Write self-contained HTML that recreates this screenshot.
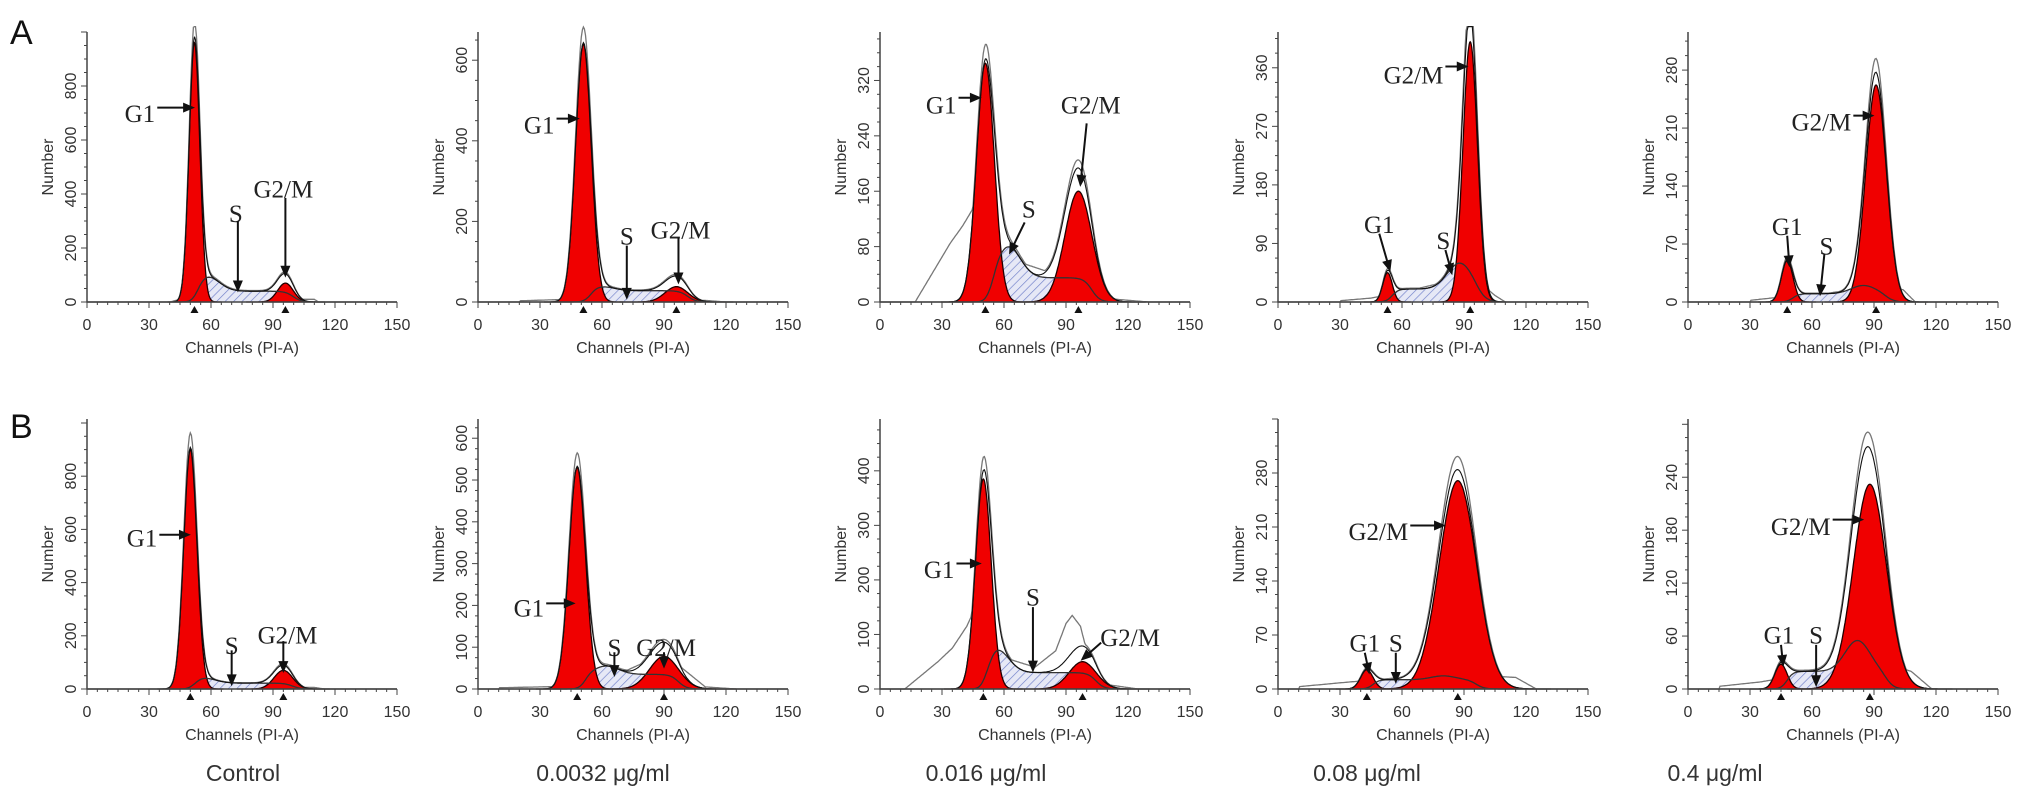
<!DOCTYPE html>
<html><head><meta charset="utf-8">
<style>
html,body{margin:0;padding:0;background:#fff;}
svg{display:block;}
.tk{font-family:"Liberation Sans",sans-serif;font-size:16px;fill:#333;}
.lb{font-family:"Liberation Serif",serif;font-size:25px;fill:#222;}
.ti{font-family:"Liberation Sans",sans-serif;font-size:23px;fill:#333;}
</style></head>
<body>
<svg id="fig" width="2031" height="808" viewBox="0 0 2031 808" xmlns="http://www.w3.org/2000/svg">
<defs>
<pattern id="hatch" width="6" height="6" patternUnits="userSpaceOnUse" patternTransform="rotate(45)">
<rect width="6" height="6" fill="#e6e8f6"/>
<line x1="0" y1="0" x2="0" y2="6" stroke="#6f7fc9" stroke-width="1.3"/>
</pattern>
</defs>
<text x="10" y="44" font-family="Liberation Sans,sans-serif" font-size="34" fill="#111">A</text>
<text x="10" y="438" font-family="Liberation Sans,sans-serif" font-size="34" fill="#111">B</text>
</svg>
<script>
// ---- data ----
const conditions = ["Control","0.0032 μg/ml","0.016 μg/ml","0.08 μg/ml","0.4 μg/ml"];
const yMax = [1000,670,390,415,326, 1015,646,495,350,306];
const yTicks = [
 [0,200,400,600,800],[0,200,400,600],[0,80,160,240,320],[0,90,180,270,360],[0,70,140,210,280],
 [0,200,400,600,800],[0,100,200,300,400,500,600],[0,100,200,300,400],[0,70,140,210,280],[0,60,120,180,240]];
const xTicks = [0,30,60,90,120,150];
// G1 peak: [mean, sd, height]
const g1Peaks = [[52,2.6,960],[51,3.8,640],[51,4.3,345],[53,2.3,45],[48,2.8,50],
                 [50,3.2,900],[48,4,530],[50,3.8,385],[43,3,25],[45,3,28]];
// G2/M peak: [mean, sd, height]
const g2Peaks = [[96,3.8,70],[96,5.5,38],[96,6.5,160],[93,3.5,400],[91,5,262],
                 [95,4.5,70],[90,7,78],[98,6.5,50],[87,9,270],[88,8,232]];
// S-phase: [level, humpChannel, humpHeight]
const sPhase = [[40,58,55],[28,60,10],[35,62,45],[20,88,40],[10,85,10],
                [22,56,20],[35,62,20],[30,56,45],[12,80,5],[20,82,35]];
// raw histogram envelope points (debris / extra): [channel, value]
const debris = [
 [[40,0],[45,10],[110,10],[112,0]],
 [[20,3],[40,6],[110,4],[120,0]],
 [[17,0],[22,25],[28,55],[34,85],[40,110],[45,135],[48,150],[56,60],[62,75],[70,55],[80,45],[88,45],[110,5],[130,0]],
 [[30,2],[45,6],[60,15],[80,30],[88,55],[105,10],[110,0]],
 [[30,2],[45,6],[60,8],[80,15],[104,15],[110,0]],
 [[35,0],[45,5],[110,6],[115,0]],
 [[10,3],[40,6],[70,40],[90,85],[110,5],[125,0]],
 [[12,0],[20,25],[28,50],[35,75],[42,115],[45,140],[58,60],[75,40],[85,70],[90,120],[93,135],[97,115],[102,40],[110,8],[125,0]],
 [[10,3],[30,8],[60,15],[80,20],[115,15],[125,0]],
 [[15,3],[35,8],[60,18],[80,40],[108,20],[118,0]]];
// labels: [text, textX(ch), textY(count), anchor, arrowFromX, arrowFromY, arrowToX, arrowToY]
const labels = [
 [["G1",33,700,"end",34,720,51,720],["S",72,330,"middle",73,300,73,45],["G2/M",95,420,"middle",96,385,96,100]],
 [["G1",37,440,"end",38,455,48,455],["S",72,165,"middle",72,140,72,12],["G2/M",98,180,"middle",97,160,97,50]],
 [["G1",37,285,"end",38,295,48,295],["S",72,135,"middle",70,115,63,72],["G2/M",102,285,"middle",100,258,97,170]],
 [["G2/M",80,350,"end",81,362,91,362],["G1",49,120,"middle",49,105,54,50],["S",80,95,"middle",81,80,84,45]],
 [["G2/M",79,218,"end",80,225,89,225],["G1",48,92,"middle",48,80,49,45],["S",67,68,"middle",66,58,64,10]],
 [["G1",34,570,"end",35,580,49,580],["S",70,165,"middle",70,145,70,20],["G2/M",97,205,"middle",95,180,95,70]],
 [["G1",32,195,"end",33,205,46,205],["S",66,100,"middle",66,88,66,35],["G2/M",91,100,"middle",90,88,90,55]],
 [["G1",36,220,"end",37,230,48,230],["S",74,170,"middle",74,150,74,35],["G2/M",121,95,"middle",107,85,98,55]],
 [["G2/M",63,205,"end",64,212,80,212],["G1",42,60,"middle",42,47,44,22],["S",57,60,"middle",57,47,57,10]],
 [["G2/M",69,185,"end",70,192,84,192],["G1",44,62,"middle",45,50,46,28],["S",62,62,"middle",62,50,62,5]]];
// ---- layout ----
const X0 = [87,478,880,1278,1688];
const W = 310, H = 270, BASES = [302,689];
const NS = "http://www.w3.org/2000/svg";
const svg = document.getElementById("fig");
function mk(tag, attrs, parent){const e=document.createElementNS(NS,tag);for(const k in attrs)e.setAttribute(k,attrs[k]);(parent||svg).appendChild(e);return e;}
function gauss(x,p){return p[2]*Math.exp(-0.5*((x-p[0])/p[1])**2);}
function interp(pts,x){if(x<=pts[0][0]||x>=pts[pts.length-1][0])return 0;for(let i=1;i<pts.length;i++){if(x<=pts[i][0]){const a=pts[i-1],b=pts[i];return a[1]+(b[1]-a[1])*(x-a[0])/(b[0]-a[0]);}}return 0;}
function sig(z){return 1/(1+Math.exp(-z));}
function sComp(i,x){const g1=g1Peaks[i],g2=g2Peaks[i],s=sPhase[i];
 return s[0]*sig((x-g1[0]-g1[1])/1.5)*sig((g2[0]+g2[1]-x)/2)+s[2]*Math.exp(-0.5*((x-s[1])/6)**2)*sig((x-g1[0])/1.5);}

for(let i=0;i<10;i++){
 const row=Math.floor(i/5), col=i%5, x0=X0[col], base=BASES[row], ym=yMax[i];
 const sx=c=>x0+c/150*W, sy=v=>base-Math.min(v,ym*1.02)/ym*H;
 const g=mk("g",{});
 
 
 const xs=[];for(let c=0;c<=150;c+=0.5)xs.push(c);
 let d="M"+sx(0)+","+sy(0);xs.forEach(c=>{d+=" L"+sx(c).toFixed(1)+","+sy(sComp(i,c)).toFixed(1);});d+=" L"+sx(150)+","+sy(0)+"Z";
 const sp=mk("path",{d:d,fill:"url(#hatch)",stroke:"none"},g);
 
 
 [g1Peaks[i],g2Peaks[i]].forEach((p,k)=>{let dd="M"+sx(p[0]-5*p[1])+","+sy(0);
  for(let c=p[0]-5*p[1];c<=p[0]+5*p[1];c+=0.25)dd+=" L"+sx(c).toFixed(1)+","+sy(gauss(c,p)).toFixed(1);
  dd+=" L"+sx(p[0]+5*p[1])+","+sy(0)+"Z";
  const rp=mk("path",{d:dd,fill:"#f00000",stroke:"#200",["stroke-width"]:1.3},g);
  
  
 });
 let ds="";xs.forEach((c,j)=>{ds+=(j?" L":"M")+sx(c).toFixed(1)+","+sy(sComp(i,c)).toFixed(1);});
 const sl=mk("path",{d:ds,fill:"none",stroke:"#333","stroke-width":1.3},g);
 
 
 const tot=c=>gauss(c,g1Peaks[i])+gauss(c,g2Peaks[i])+sComp(i,c);
 let df="",dr="";xs.forEach((c,j)=>{df+=(j?" L":"M")+sx(c).toFixed(1)+","+sy(tot(c)).toFixed(1);
  dr+=(j?" L":"M")+sx(c).toFixed(1)+","+sy(Math.max(tot(c)*1.06,interp(debris[i],c))).toFixed(1);});
 const rl=mk("path",{d:dr,fill:"none",stroke:"#777","stroke-width":1.3},g);
 
 
 const fl=mk("path",{d:df,fill:"none",stroke:"#111","stroke-width":1.1},g);
 
 
 const ax=mk("path",{d:`M${x0},${base-H} L${x0},${base} L${x0+W},${base}`,fill:"none",stroke:"#444","stroke-width":1.5},g);
 
 
 for(let c=0;c<=150;c+=5){mk("line",{x1:sx(c),x2:sx(c),y1:base,y2:base+(c%30?3:6),stroke:"#444","stroke-width":1},g);}
 xTicks.forEach(c=>{const t=mk("text",{x:sx(c),y:base+28,"text-anchor":"middle",class:"tk"},g);t.textContent=c;
  
  });
 const step=yTicks[i][1]/4;
 for(let v=0;v<=ym;v+=step){mk("line",{x1:x0,x2:x0-(Math.abs(v/yTicks[i][1]-Math.round(v/yTicks[i][1]))<1e-6?6:3),y1:sy(v),y2:sy(v),stroke:"#444","stroke-width":1},g);}
 yTicks[i].forEach(v=>{const t=mk("text",{x:0,y:0,"text-anchor":"middle",class:"tk",transform:`translate(${x0-11},${sy(v)}) rotate(-90)`},g);t.textContent=v;
  
  });
 const yt=mk("text",{x:0,y:0,"text-anchor":"middle",class:"tk",transform:`translate(${x0-34},${base-H/2}) rotate(-90)`},g);yt.textContent="Number";
 
 
 const xt=mk("text",{x:x0+W/2,y:base+51,"text-anchor":"middle",class:"tk"},g);xt.textContent="Channels (PI-A)";
 
 
 [g1Peaks[i][0],g2Peaks[i][0]].forEach(m=>{const tr=mk("path",{d:`M${sx(m)-4},${base+11} L${sx(m)+4},${base+11} L${sx(m)},${base+4}Z`,fill:"#111"},g);
  
  });
 labels[i].forEach(L=>{const t=mk("text",{x:sx(L[1]),y:sy(L[2])+9,"text-anchor":L[3],class:"lb"},g);t.textContent=L[0];
  
  
  const x1=sx(L[4]),y1=sy(L[5]),x2=sx(L[6]),y2=sy(L[7]);
  const a=Math.atan2(y2-y1,x2-x1),hl=9;
  const ar=mk("path",{d:`M${x1},${y1} L${x2},${y2} M${x2-hl*Math.cos(a-0.4)},${y2-hl*Math.sin(a-0.4)} L${x2},${y2} L${x2-hl*Math.cos(a+0.4)},${y2-hl*Math.sin(a+0.4)}Z`,stroke:"#111","stroke-width":2,fill:"#111"},g);
  
  });
}
const titleX=[243,603,986,1367,1715];
conditions.forEach((c,k)=>{const t=mk("text",{x:titleX[k],y:781,"text-anchor":"middle",class:"ti"});t.textContent=c;
 
 });
</script>
</body></html>
